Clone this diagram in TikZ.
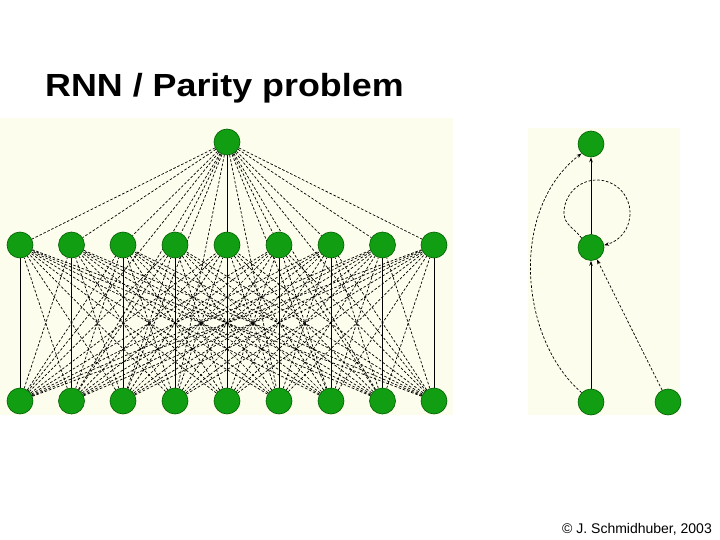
\documentclass[tikz,border=0pt]{standalone}
\usepackage{fontspec}
\setmainfont{Liberation Sans}
\usetikzlibrary{arrows.meta}
\definecolor{panelbg}{RGB}{252,253,236}
\definecolor{nodegreen}{RGB}{18,158,18}
\definecolor{nodeedge}{RGB}{0,95,0}
\pgfdeclarelayer{bg}
\pgfsetlayers{bg,main}
\begin{document}
\begin{tikzpicture}[x=1pt,y=-1pt,
  unit/.style={circle,fill=nodegreen,draw=nodeedge,line width=0.6pt,minimum size=26pt,inner sep=0pt},
  wdash/.style={draw=black,line width=0.7pt,dash pattern=on 2.6pt off 1.8pt},
  wsolid/.style={draw=black,line width=0.9pt},
  tip/.style={-{Stealth[length=5pt,width=3.5pt]}}]
\useasboundingbox (0,0) rectangle (720,540);
% title and credit
\node[anchor=base west,inner sep=0pt,font=\bfseries\fontsize{32}{38}\selectfont] (title) at (45,97) {\scalebox{1.12}[1]{RNN / Parity problem}};
\node[anchor=base east,inner sep=0pt,font=\fontsize{14}{17}\selectfont] (credit) at (712,533) {© J. Schmidhuber, 2003};
% left network nodes
\node[unit] (t) at (227,142) {};
\foreach \i/\x in {1/20,2/71.5,3/123,4/175,5/227,6/279,7/331,8/382.5,9/434}{
  \node[unit] (m\i) at (\x,245) {};
  \node[unit] (b\i) at (\x,401) {};
}
% right network nodes
\node[unit] (o) at (591,144) {};
\node[unit] (h) at (591,247.5) {};
\node[unit] (x) at (591,402) {};
\node[unit] (y) at (668,402) {};
\coordinate (lpL) at (564,213);
\begin{pgfonlayer}{bg}
\fill[panelbg] (0,118) rectangle (453,415);
\fill[panelbg] (528,128) rectangle (680,415);
\foreach \i in {1,...,9}{
  \foreach \j in {1,...,9}{
    \ifnum\i=\j\relax
    \else
      \draw[wdash] (b\i) -- (m\j);
    \fi
  }
  \draw[wdash] (t) -- (b\i);
  \ifnum\i=5\relax\else\draw[wdash] (t) -- (m\i);\fi
}
\foreach \i in {1,...,9}{\draw[wsolid] (b\i) -- (m\i);}
\draw[wsolid] (t) -- (m5);
% right network
\draw[wsolid,tip] (x) -- (h);
\draw[wsolid,tip] (h) -- (o);
\draw[wdash,tip] (y) -- (h);
\draw[wdash,tip] (x.135) .. controls (520,340) and (508,210) .. (o.225);
\draw[wdash,tip] (h.135) to[out=125,in=270] (lpL) arc[start angle=180,end angle=360,radius=33] to[out=270,in=15] (h.10);
\end{pgfonlayer}
\end{tikzpicture}
\end{document}
